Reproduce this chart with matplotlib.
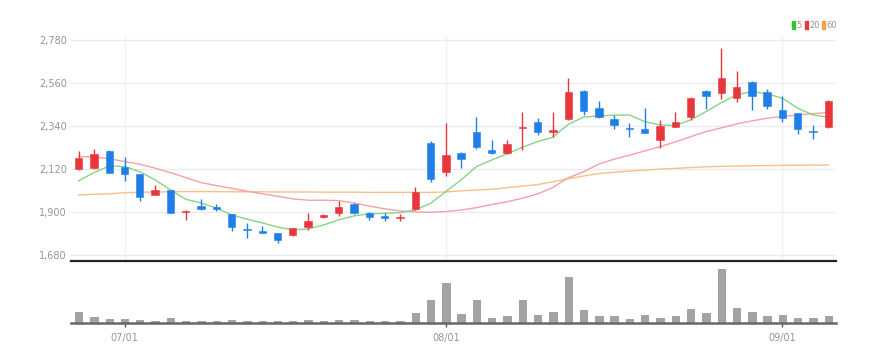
import matplotlib
matplotlib.use("Agg")
import matplotlib.pyplot as plt
from matplotlib.patches import Rectangle
import numpy as np

plt.rcParams["font.family"] = ["Liberation Sans Narrow", "DejaVu Sans"]

# daily candles (50 trading days)
opens = [2118, 2125, 2212, 2129, 2093, 1987, 2013, 1900, 1931, 1924,
         1888, 1815, 1803, 1794, 1782, 1825, 1874, 1893, 1941, 1896,
         1878, 1868, 1914, 2251, 2106, 2200, 2308, 2217, 2200, 2328,
         2359, 2311, 2374, 2521, 2434, 2376, 2331, 2323, 2268, 2336,
         2385, 2521, 2510, 2485, 2564, 2512, 2422, 2405, 2316, 2333]
highs = [2214, 2222, 2215, 2183, 2093, 2038, 2013, 1908, 1967, 1941,
         1888, 1845, 1828, 1794, 1820, 1896, 1890, 1958, 1945, 1898,
         1896, 1890, 2029, 2265, 2354, 2207, 2384, 2268, 2268, 2413,
         2380, 2410, 2584, 2525, 2468, 2396, 2354, 2431, 2371, 2413,
         2490, 2524, 2737, 2621, 2570, 2528, 2494, 2408, 2345, 2472]
lows = [2116, 2118, 2101, 2059, 1956, 1987, 1893, 1859, 1912, 1907,
        1804, 1767, 1791, 1743, 1778, 1808, 1869, 1880, 1891, 1859,
        1856, 1856, 1910, 2055, 2084, 2124, 2221, 2197, 2197, 2217,
        2294, 2285, 2370, 2396, 2380, 2323, 2285, 2303, 2226, 2333,
        2371, 2425, 2477, 2464, 2422, 2425, 2362, 2299, 2272, 2330]
closes = [2175, 2197, 2101, 2093, 1978, 2013, 1893, 1905, 1915, 1914,
          1825, 1806, 1794, 1757, 1817, 1854, 1883, 1927, 1893, 1876,
          1871, 1874, 2002, 2067, 2192, 2171, 2234, 2203, 2248, 2336,
          2308, 2320, 2515, 2418, 2385, 2345, 2323, 2306, 2340, 2359,
          2485, 2495, 2584, 2538, 2494, 2442, 2379, 2325, 2309, 2468]

# moving averages
ma5 = [2059, 2101, 2135, 2132, 2106, 2064, 2013, 1965, 1946, 1920,
       1885, 1863, 1844, 1823, 1808, 1813, 1833, 1859, 1880, 1890,
       1893, 1896, 1910, 1944, 2004, 2064, 2132, 2166, 2197, 2231,
       2260, 2282, 2348, 2385, 2391, 2395, 2396, 2362, 2345, 2342,
       2371, 2413, 2459, 2499, 2516, 2504, 2482, 2431, 2396, 2385]
ma20 = [2183, 2182, 2172, 2158, 2144, 2124, 2101, 2076, 2050, 2035,
        2021, 2006, 1993, 1980, 1967, 1960, 1960, 1958, 1946, 1930,
        1916, 1905, 1900, 1898, 1902, 1910, 1922, 1938, 1952, 1970,
        1992, 2025, 2075, 2105, 2145, 2170, 2190, 2212, 2234, 2258,
        2285, 2311, 2330, 2350, 2366, 2379, 2389, 2396, 2403, 2408]
ma60 = [1987, 1990, 1993, 1998, 2001, 2002, 2003, 2004, 2004, 2004,
        2003, 2003, 2003, 2002, 2002, 2002, 2001, 2001, 2001, 2000,
        2000, 2000, 2000, 2000, 2002, 2008, 2012, 2016, 2024, 2032,
        2040, 2054, 2070, 2084, 2096, 2103, 2109, 2114, 2119, 2123,
        2127, 2131, 2133, 2135, 2136, 2137, 2138, 2139, 2140, 2140]

volumes = [110, 60, 43, 43, 30, 23, 47, 23, 23, 17,
           27, 23, 17, 23, 17, 33, 23, 27, 27, 17,
           17, 17, 100, 227, 397, 93, 227, 50, 67, 227,
           83, 110, 460, 133, 67, 67, 43, 83, 50, 67,
           143, 100, 543, 150, 110, 67, 77, 50, 47, 67]

tick_pos = [3, 24, 46]
tick_labels = ["07/01", "08/01", "09/01"]
price_ticks = [1680, 1900, 2120, 2340, 2560, 2780]

up_color = "#e8363d"
down_color = "#1f7fe6"
label_color = "#959595"

x = np.arange(len(closes))
o = np.array(opens)
c = np.array(closes)
colors = [up_color if cc >= oo else down_color for oo, cc in zip(o, c)]
body_bottom = np.minimum(o, c)
body_height = np.maximum(np.abs(c - o), 5)

fig = plt.figure(figsize=(8.87, 3.63), dpi=100)
ax = fig.add_axes([0.080, 0.281, 0.8625, 0.6198])
axv = fig.add_axes([0.080, 0.1102, 0.8625, 0.1625])

# price panel
for p in price_ticks:
    ax.axhline(p, color="#ebebeb", lw=1, zorder=0)
for t in tick_pos:
    ax.axvline(t, color="#f0f0f0", lw=1, zorder=0)

ax.plot(x, ma60, color="#f7c08a", lw=1.0, zorder=2)
ax.plot(x, ma20, color="#f5a0a8", lw=1.0, zorder=2)
ax.plot(x, ma5, color="#86d486", lw=1.0, zorder=2)

ax.vlines(x, lows, highs, colors=colors, lw=1, zorder=3)
ax.bar(x, body_height, bottom=body_bottom, width=0.48, color=colors,
       edgecolor=colors, linewidth=0.4, zorder=4)

ax.set_xlim(-0.5, 49.5)
ax.set_ylim(1649, 2800)
ax.set_yticks(price_ticks)
ax.set_yticklabels([f"{p:,}" for p in price_ticks])
ax.set_xticks([])
ax.tick_params(axis="y", length=0, pad=3, labelsize=7, labelcolor=label_color)
for side in ["left", "right", "top"]:
    ax.spines[side].set_visible(False)
ax.spines["bottom"].set_color("#222222")
ax.spines["bottom"].set_linewidth(1.6)

# volume panel
axv.bar(x, volumes, width=0.48, color="#a3a3a3", edgecolor="#8e8e8e",
        linewidth=0.5, zorder=2)
axv.set_xlim(-0.5, 49.5)
axv.set_ylim(0, 590)
axv.set_yticks([])
axv.set_xticks(tick_pos)
axv.set_xticklabels(tick_labels)
axv.tick_params(axis="x", length=3, width=1, color="#555555", pad=4,
                labelsize=7, labelcolor=label_color)
for side in ["left", "right", "top"]:
    axv.spines[side].set_visible(False)
axv.spines["bottom"].set_color("#666666")
axv.spines["bottom"].set_linewidth(1.8)

# legend
legend_items = [("5", "#33c433", 792), ("20", up_color, 805), ("60", "#f5a24a", 822)]
for text, col, px in legend_items:
    fig.patches.append(Rectangle((px / 887, 1 - 29 / 363), 3 / 887, 8 / 363,
                                 transform=fig.transFigure, color=col))
    fig.text((px + 4) / 887, 1 - 25 / 363, text, fontsize=6,
             color=label_color, va="center", ha="left")

fig.savefig("out.png", dpi=100)
